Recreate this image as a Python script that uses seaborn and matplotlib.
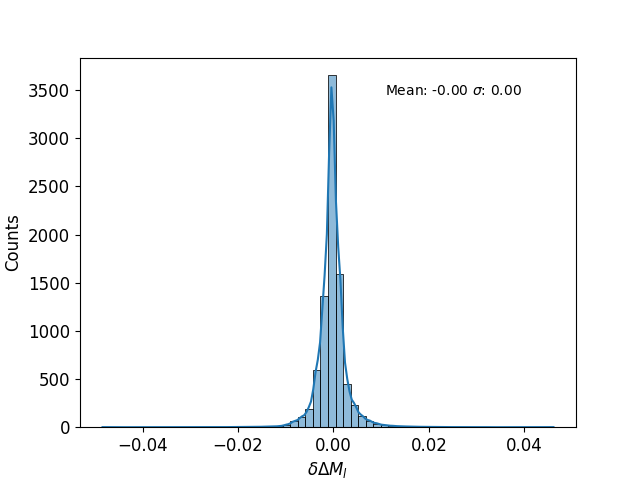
import numpy as np
import pandas as pd
import matplotlib
matplotlib.use("Agg")
import matplotlib.pyplot as plt
import seaborn as sns

# histogram of delta Delta M_l residuals, 60 bins over the data range
bin_lo = -0.0484
bin_hi = 0.0461
n_bins = 60

# counts per bin, left to right
bin_counts = [
    0, 0, 0, 0, 0, 0, 0, 0, 0, 0,
    0, 0, 1, 0, 1, 1, 1, 2, 2, 3,
    4, 5, 7, 10, 25, 60, 103, 187, 592, 1361,
    3654, 1586, 447, 229, 114, 66, 38, 21, 14, 10,
    7, 5, 4, 3, 2, 2, 1, 1, 1, 0,
    1, 0, 0, 0, 0, 0, 0, 0, 0, 0,
]

# single extreme samples that set the data range
tail_values = [-0.0484, 0.0461]

mean_text = "Mean: -0.00 $\\sigma$: 0.00"


def build_frame():
    edges = np.linspace(bin_lo, bin_hi, n_bins + 1)
    centers = 0.5 * (edges[:-1] + edges[1:])
    df = pd.DataFrame({"value": centers, "weight": bin_counts})
    tails = pd.DataFrame({"value": tail_values, "weight": [1] * len(tail_values)})
    df = pd.concat([df, tails], ignore_index=True)
    return df[df["weight"] > 0]


def main():
    df = build_frame()

    fig, ax = plt.subplots(figsize=(6.4, 4.8), dpi=100)
    # weighted kde sees few "effective" samples, so narrow the bandwidth
    sns.histplot(data=df, x="value", weights="weight", bins=n_bins,
                 binrange=(bin_lo, bin_hi), kde=True,
                 kde_kws={"bw_adjust": 0.255}, line_kws={"linewidth": 1.5}, ax=ax)

    ax.set_xlabel(r"$\delta\Delta M_l$", fontsize=12)
    ax.set_ylabel("Counts", fontsize=12)
    ax.tick_params(labelsize=12)
    ax.text(0.615, 0.91, mean_text, transform=ax.transAxes, fontsize=10,
            va="center")

    fig.savefig("out.png")


if __name__ == "__main__":
    main()
